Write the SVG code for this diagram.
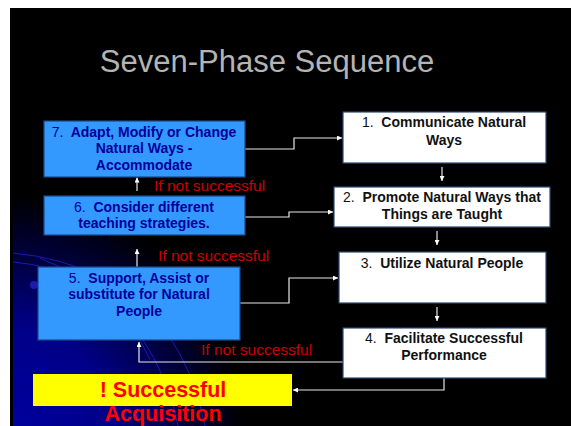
<svg xmlns="http://www.w3.org/2000/svg" width="571" height="426" viewBox="0 0 571 426">
<defs>
<radialGradient id="bg" gradientUnits="userSpaceOnUse" cx="5" cy="435" r="240">
<stop offset="0" stop-color="#0000a0"/>
<stop offset="0.45" stop-color="#000088"/>
<stop offset="1" stop-color="#000000"/>
</radialGradient>
<marker id="ah" viewBox="0 0 6 6" refX="6" refY="3" markerWidth="5" markerHeight="5" orient="auto" markerUnits="userSpaceOnUse">
<path d="M0,0 L6,3 L0,6 z" fill="#ffffff"/>
</marker>
<style>
text{white-space:pre}
.blue{fill:#3399ff;stroke:#1a4a8a;stroke-width:1.2}
.white{fill:#ffffff;stroke:#2a4a70;stroke-width:1.2}
.bt{font-family:"Liberation Sans",Arial,sans-serif;font-size:14px;font-weight:bold;fill:#000099;text-anchor:middle}
.wt{font-family:"Liberation Sans",Arial,sans-serif;font-size:14px;font-weight:bold;fill:#111111;text-anchor:middle}
.n{font-weight:normal}
.red{font-family:"Liberation Sans",Arial,sans-serif;font-size:15.5px;fill:#cc0000}
.conn{fill:none;stroke:#e8e8e8;stroke-width:1.2}
.arc{fill:none;stroke:#1a1ab0;stroke-width:1}
</style>
</defs>
<rect x="0" y="0" width="571" height="426" fill="#ffffff"/>
<rect x="10" y="8" width="561" height="418" fill="#000000"/>
<rect x="13" y="190" width="300" height="236" fill="url(#bg)"/>
<g id="decor">
<path class="arc" d="M13,253 Q110,262 165,330 Q195,372 205,426"/>
<path class="arc" d="M13,262 Q90,268 140,335 Q170,380 178,426"/>
<path class="arc" d="M40,258 Q120,290 150,360"/>
<circle cx="34" cy="285" r="4" fill="#1a1ab0"/>
</g>
<text x="267" y="72" font-family="'Liberation Sans',Arial,sans-serif" font-size="31" fill="#b4b4b4" text-anchor="middle">Seven-Phase Sequence</text>
<g id="connectors">
<path class="conn" d="M245,149 H294 V138 H342" marker-end="url(#ah)"/>
<path class="conn" d="M245,217 H289 V212 H333" marker-end="url(#ah)"/>
<path class="conn" d="M240,303 H289 V278 H338" marker-end="url(#ah)"/>
<path class="conn" d="M442,167 V181" marker-end="url(#ah)"/>
<path class="conn" d="M437,231 V245" marker-end="url(#ah)"/>
<path class="conn" d="M437,307 V321" marker-end="url(#ah)"/>
<path class="conn" d="M343,362 H139 V342" marker-end="url(#ah)"/>
<path class="conn" d="M444,378 V390 H293" marker-end="url(#ah)"/>
<path class="conn" d="M137,267 V249" marker-end="url(#ah)"/>
<path class="conn" d="M137,191 V177.5" marker-end="url(#ah)"/>
</g>
<g id="labels">
<text class="red" x="154" y="191">If not successful</text>
<text class="red" x="158" y="261">If not successful</text>
<text class="red" x="201" y="355">If not successful</text>
</g>
<g id="node7">
<rect class="blue" x="44" y="121" width="201" height="56"/>
<text class="bt" x="144" y="137"><tspan class="n">7.</tspan>  Adapt, Modify or Change</text>
<text class="bt" x="144" y="153">Natural Ways -</text>
<text class="bt" x="144" y="170">Accommodate</text>
</g>
<g id="node6">
<rect class="blue" x="44" y="196" width="201" height="39"/>
<text class="bt" x="144" y="212"><tspan class="n">6.</tspan>  Consider different</text>
<text class="bt" x="144" y="228">teaching strategies.</text>
</g>
<g id="node5">
<rect class="blue" x="38" y="267" width="202" height="73"/>
<text class="bt" x="139" y="283"><tspan class="n">5.</tspan>  Support, Assist or</text>
<text class="bt" x="139" y="299">substitute for Natural</text>
<text class="bt" x="139" y="316">People</text>
</g>
<g id="node1">
<rect class="white" x="343" y="112" width="203" height="51"/>
<text class="wt" x="444" y="127"><tspan class="n">1.</tspan>  Communicate Natural</text>
<text class="wt" x="444" y="145">Ways</text>
</g>
<g id="node2">
<rect class="white" x="334" y="187" width="216" height="40"/>
<text class="wt" x="442" y="202"><tspan class="n">2.</tspan>  Promote Natural Ways that</text>
<text class="wt" x="442" y="219">Things are Taught</text>
</g>
<g id="node3">
<rect class="white" x="339" y="252" width="207" height="51"/>
<text class="wt" x="442" y="268"><tspan class="n">3.</tspan>  Utilize Natural People</text>
</g>
<g id="node4">
<rect class="white" x="343" y="328" width="203" height="50"/>
<text class="wt" x="444" y="343"><tspan class="n">4.</tspan>  Facilitate Successful</text>
<text class="wt" x="444" y="360">Performance</text>
</g>
<g id="success">
<rect x="33" y="374" width="259" height="32" fill="#ffff00"/>
<text x="163" y="397" font-family="'Liberation Sans',Arial,sans-serif" font-size="21.5" font-weight="bold" fill="#ff0000" text-anchor="middle">! Successful</text>
<text x="163" y="420.5" font-family="'Liberation Sans',Arial,sans-serif" font-size="21.5" font-weight="bold" fill="#ff0000" text-anchor="middle">Acquisition</text>
</g>
</svg>
